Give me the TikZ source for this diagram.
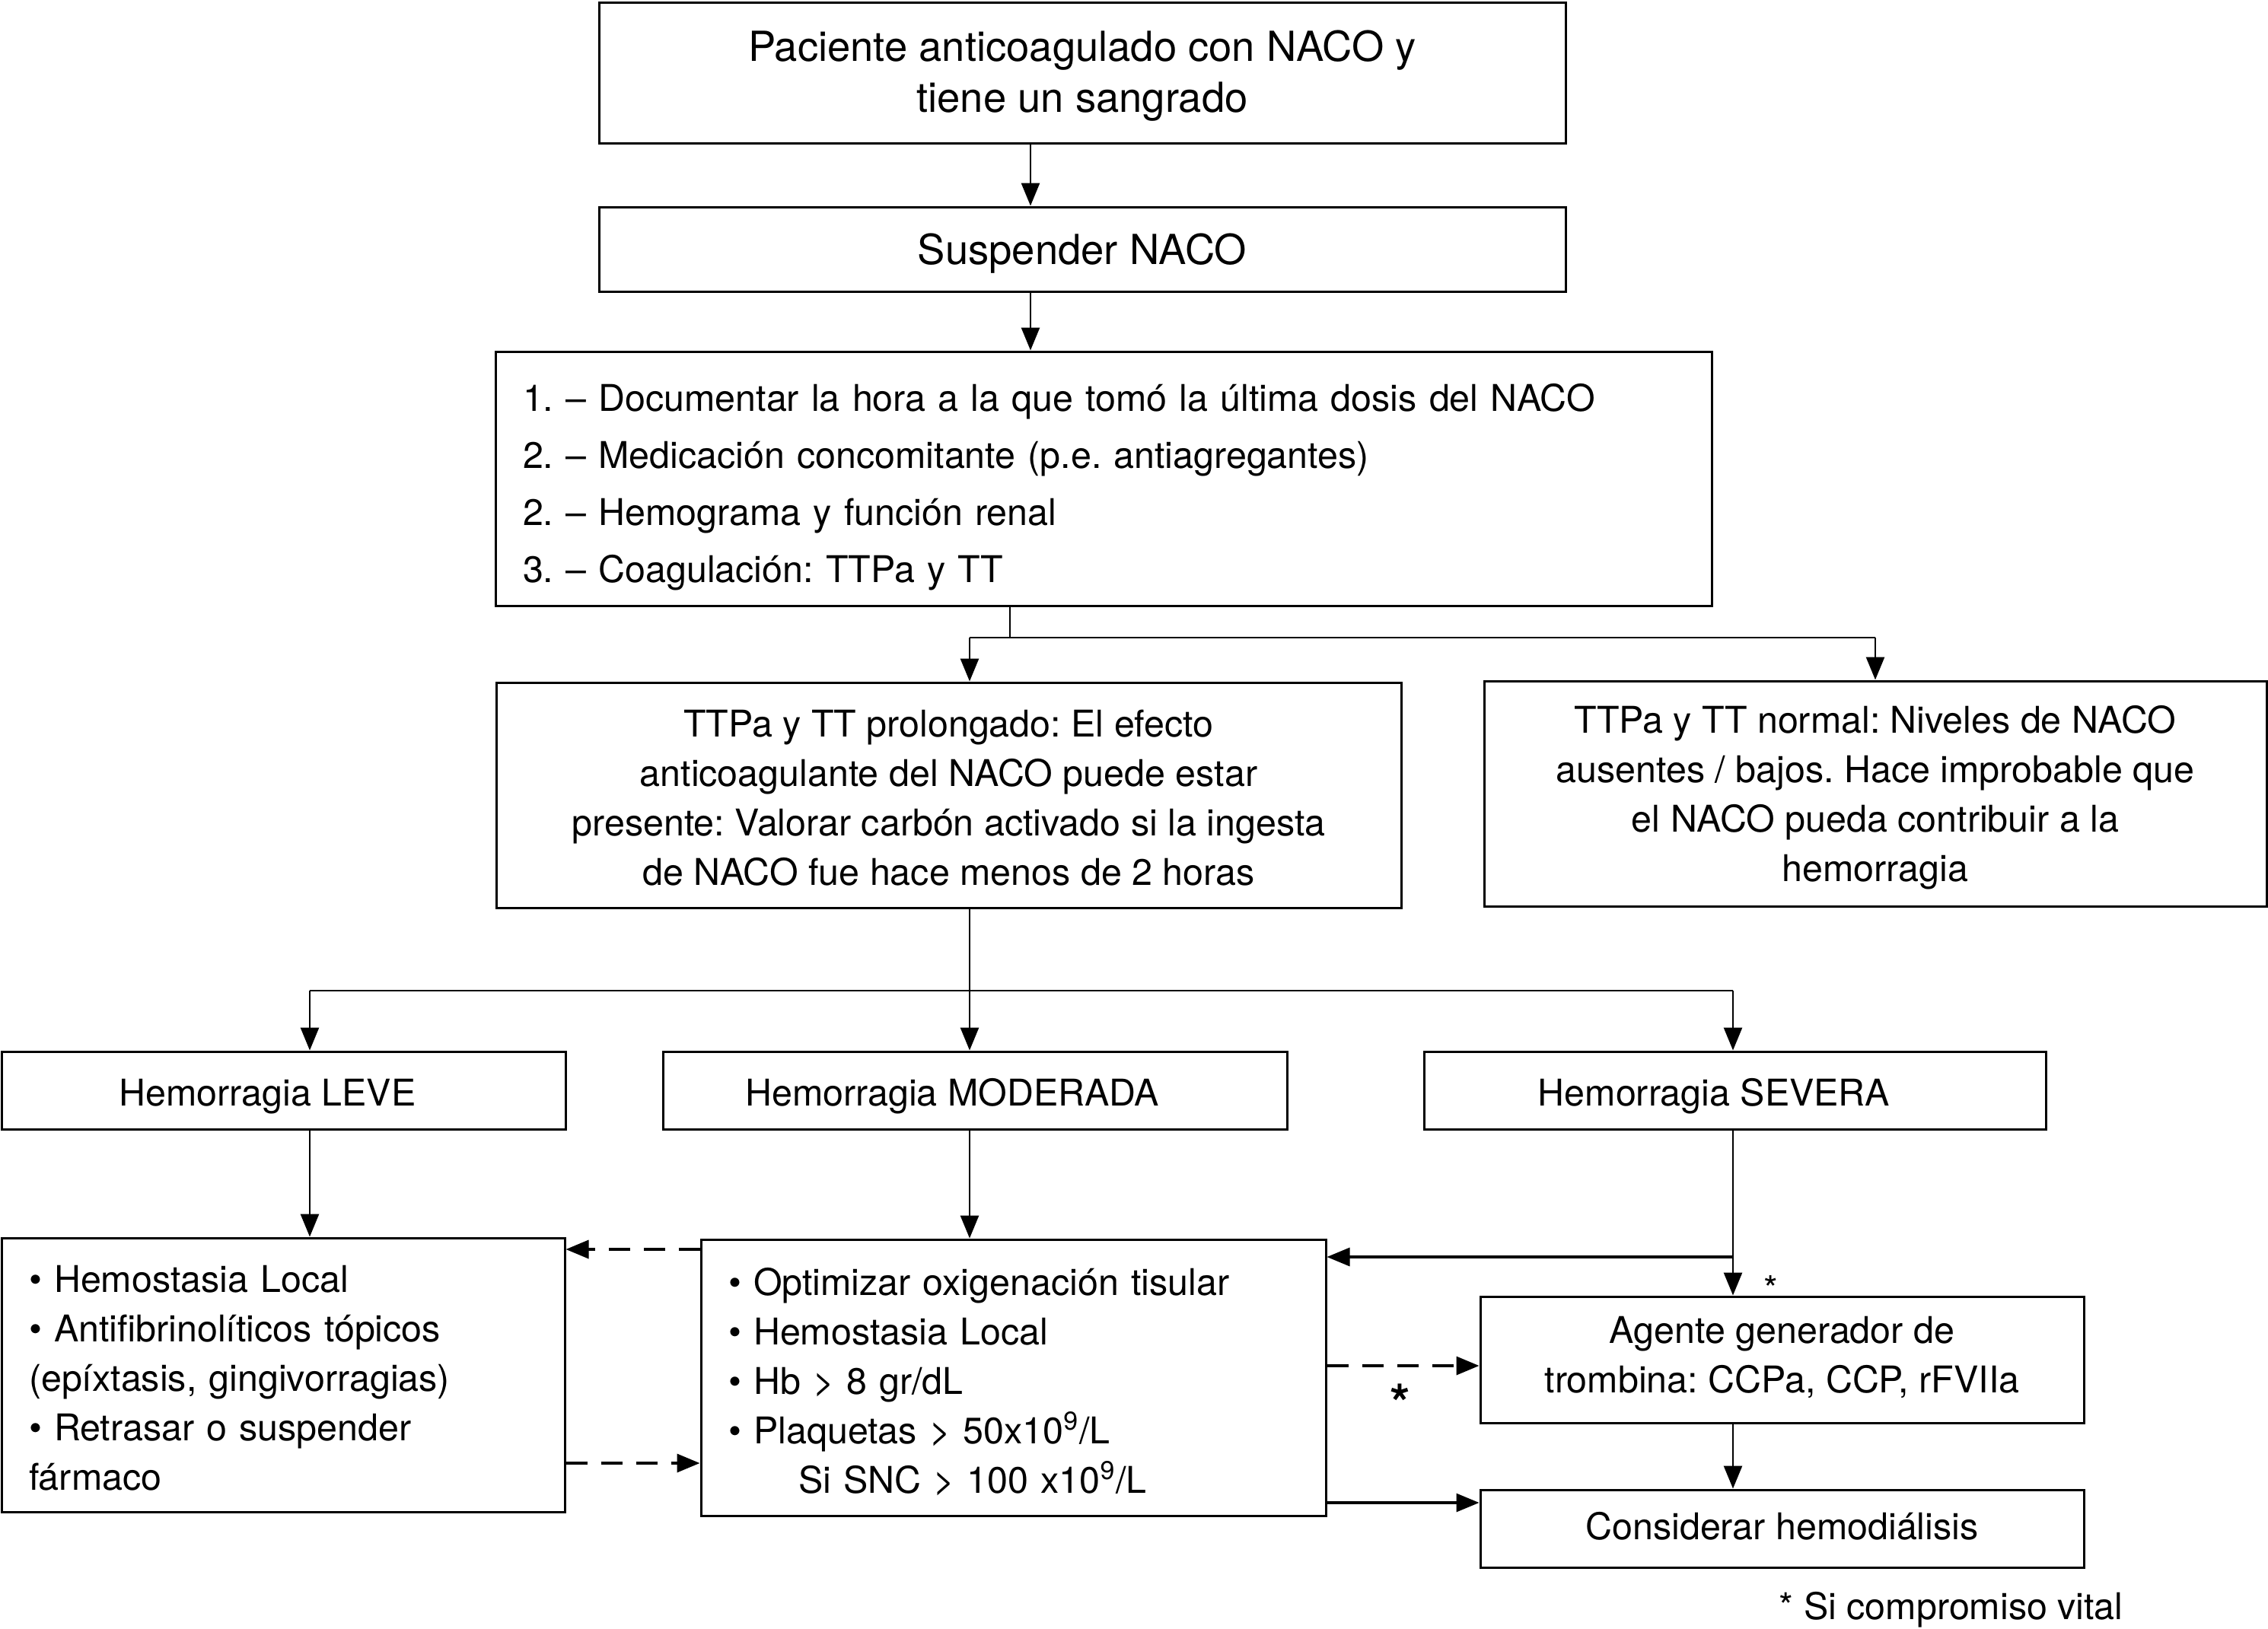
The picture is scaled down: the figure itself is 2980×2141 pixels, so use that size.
\documentclass[tikz,border=0pt]{standalone}
\usepackage{fontspec}
\setmainfont{TeX Gyre Heros}
\usetikzlibrary{arrows.meta}
\begin{document}
\frenchspacing
\begin{tikzpicture}[x=0.25pt,y=-0.25pt,
  box/.style={draw, line width=0.75pt, inner sep=0pt, font=\fontsize{12.1}{16.25}\selectfont},
  bigbox/.style={box, font=\fontsize{13.6}{16.75}\selectfont},
  conn/.style={line width=0.7pt},
  tip/.style={-{Triangle[length=7.5pt,width=6pt]}},
  arr/.style={conn, tip},
  darr/.style={line width=0.9pt, dash pattern=on 7pt off 4.5pt, tip},
  harr/.style={line width=0.8pt, tip}
]
\useasboundingbox (0,0) rectangle (2980,2141);

% boxes
\node[bigbox, minimum width=317.5pt, minimum height=46.25pt, align=center, text height=25.75pt, text depth=0pt] (b1) at (1422,95.5)
  {Paciente anticoagulado con NACO y\\tiene un sangrado};
\node[bigbox, minimum width=317.5pt, minimum height=27.75pt, text height=9.75pt, text depth=0pt] (b2) at (1422,327.5) {Suspender NACO};
\node[box, minimum width=399.5pt, minimum height=83.5pt, text width=381.5pt, inner xsep=9pt, align=left,
  font=\fontsize{12.1}{18.75}\selectfont, text height=0pt, text depth=44.5pt] (b3) at (1450,629)
  {1. – Documentar la hora a la que tomó la última dosis del NACO\\
   2. – Medicación concomitante (p.e. antiagregantes)\\
   2. – Hemograma y función renal\\
   3. – Coagulación: TTPa y TT};
\node[box, minimum width=297.25pt, minimum height=74pt, align=center, text height=59pt, text depth=0pt] (b4) at (1246.5,1045)
  {TTPa y TT prolongado: El efecto\\anticoagulante del NACO puede estar\\presente: Valorar carbón activado si la ingesta\\de NACO fue hace menos de 2 horas};
\node[box, minimum width=257pt, minimum height=74pt, align=center, text height=57.5pt, text depth=0pt] (b5) at (2464,1043)
  {TTPa y TT normal: Niveles de NACO\\ausentes / bajos. Hace improbable que\\el NACO pueda contribuir a la\\hemorragia};

\node[box, minimum width=185.25pt, minimum height=25.5pt, text height=10pt, text depth=0pt] (leve) at (372.5,1433) {Hemorragia LEVE\kern10.5pt};
\node[box, minimum width=205pt, minimum height=25.5pt, text height=10pt, text depth=0pt] (mod) at (1281,1433) {Hemorragia MODERADA\kern15pt};
\node[box, minimum width=204.25pt, minimum height=25.5pt, text height=10pt, text depth=0pt] (sev) at (2279.5,1433) {Hemorragia SEVERA\kern13.75pt};

\node[box, minimum width=185pt, minimum height=90pt, text width=167pt, inner xsep=9pt, align=left, text height=0pt, text depth=54.5pt] (ml) at (372,1807)
  {• Hemostasia Local\\• Antifibrinolíticos tópicos\\(epíxtasis, gingivorragias)\\• Retrasar o suspender\\fármaco};
\node[box, minimum width=205.25pt, minimum height=90.75pt, text width=187.25pt, inner xsep=9pt, align=left, text height=0pt, text depth=54.25pt] (mm) at (1331.5,1810.5)
  {• Optimizar oxigenación tisular\\• Hemostasia Local\\• Hb > 8 gr/dL\\• Plaquetas > 50x10\textsuperscript{9}/L\\\hspace*{23pt}Si SNC > 100 x10\textsuperscript{9}/L};
\node[box, minimum width=198.25pt, minimum height=41.5pt, align=center, text height=21.5pt, text depth=0pt] (ag) at (2341.5,1787)
  {Agente generador de\\trombina: CCPa, CCP, rFVIIa};
\node[box, minimum width=198.25pt, minimum height=25.5pt, text height=7pt, text depth=0pt] (hd) at (2341.5,2009) {Considerar hemodiálisis};

% connectors
\coordinate (xa) at (1354,0);
\draw[arr] (b1.south -| xa) -- (b2.north -| xa);
\draw[arr] (b2.south -| xa) -- (b3.north -| xa);

\coordinate (s3) at (1327,838);
\coordinate (s3L) at (1274,838);
\coordinate (s3R) at (2464,838);
\draw[conn] (b3.south -| s3) -- (s3);
\draw[conn] (s3L) -- (s3R);
\draw[arr] (s3L) -- (b4.north -| s3L);
\draw[arr] (s3R) -- (b5.north -| s3R);

\coordinate (s4) at (1274,1302);
\coordinate (s4L) at (407,1302);
\coordinate (s4R) at (2277,1302);
\draw[conn] (b4.south -| s4) -- (s4);
\draw[conn] (s4L) -- (s4R);
\draw[arr] (s4L) -- (leve.north -| s4L);
\draw[arr] (s4) -- (mod.north -| s4);
\draw[arr] (s4R) -- (sev.north -| s4R);

\draw[arr] (leve.south -| s4L) -- (ml.north -| s4L);
\draw[arr] (mod.south -| s4) -- (mm.north -| s4);
\draw[arr] (sev.south -| s4R) -- (ag.north -| s4R);
\coordinate (br) at (2277,1652);
\draw[harr] (br) -- (mm.east |- br);
\draw[arr] (ag.south -| s4R) -- (hd.north -| s4R);

\coordinate (d1) at (0,1642);
\coordinate (d2) at (0,1923);
\coordinate (d3) at (0,1795);
\coordinate (d4) at (0,1975);
\draw[darr] (mm.west |- d1) -- (ml.east |- d1);
\draw[darr] (ml.east |- d2) -- (mm.west |- d2);
\draw[darr] (mm.east |- d3) -- (ag.west |- d3);
\draw[harr] (mm.east |- d4) -- (hd.west |- d4);

% asterisks and footnote
\node[inner sep=0pt, font=\fontsize{17}{17}\selectfont\bfseries] (ast1) at (1840,1844) {*};
\node[inner sep=0pt, font=\fontsize{12}{12}\selectfont] (ast2) at (2327,1694) {*};
\node[anchor=base west, inner sep=0pt, font=\fontsize{12.1}{16.25}\selectfont] (fn) at (2337,2128) {* Si compromiso vital};
\end{tikzpicture}
\end{document}
